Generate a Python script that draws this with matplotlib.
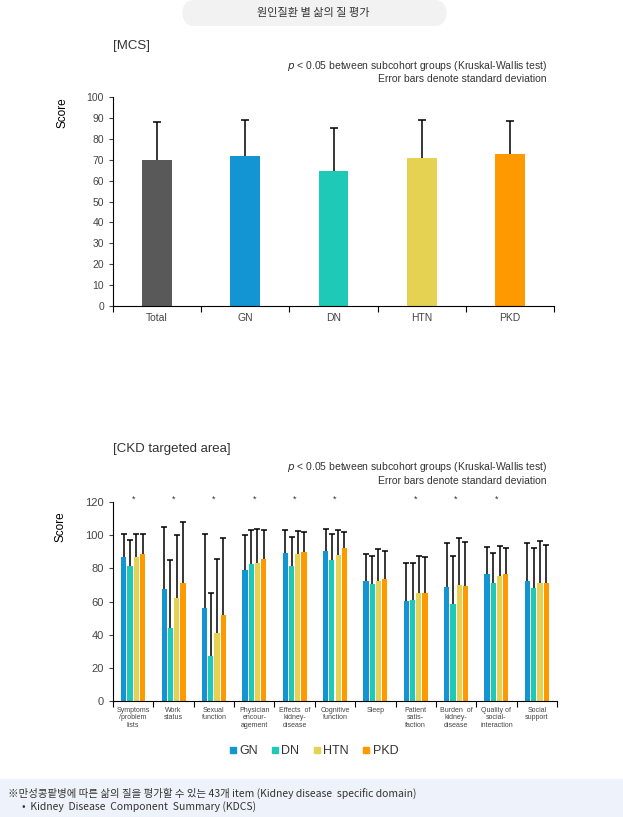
import numpy as np
import matplotlib
matplotlib.use("Agg")
import matplotlib.pyplot as plt
from matplotlib.patches import FancyBboxPatch, Rectangle
from matplotlib.lines import Line2D

plt.rcParams['font.family'] = ['Liberation Sans', 'Noto Sans CJK KR', 'DejaVu Sans']

# === Dados: MCS ===
mcs_groups = ["Total", "GN", "DN", "HTN", "PKD"]
mcs_mean = [70.0, 72.0, 64.7, 71.0, 72.5]
mcs_sd = [18.0, 17.0, 20.6, 18.0, 16.2]

# === Dados: CKD targeted area ===
domains = ["Symptoms\n/problem\nlists", "Work\nstatus", "Sexual\nfunction",
           "Physician\nencour-\nagement", "Effects  of\nkidney-\ndisease",
           "Cognitive\nfunction", "Sleep", "Patient\nsatis-\nfaction",
           "Burden  of\nkidney-\ndisease", "Quality of\nsocial-\ninteraction",
           "Social\nsupport"]
series = ["GN", "DN", "HTN", "PKD"]
gn_mean = [87.1, 67.5, 56.3, 79.0, 89.3, 90.5, 72.6, 60.3, 69.0, 76.6, 72.6]
gn_sd = [13.5, 37.3, 44.7, 21.0, 13.7, 13.1, 15.9, 23.2, 26.2, 16.1, 22.6]
dn_mean = [81.7, 43.8, 27.0, 82.7, 81.7, 85.1, 70.6, 60.9, 58.5, 71.0, 68.3]
dn_sd = [15.5, 41.1, 38.3, 20.3, 17.1, 15.9, 17.1, 22.6, 28.8, 18.1, 23.8]
htn_mean = [87.1, 62.3, 41.1, 83.0, 88.7, 88.1, 72.6, 65.3, 70.0, 75.4, 71.2]
htn_sd = [13.5, 37.7, 44.4, 20.6, 13.9, 14.9, 18.9, 22.0, 28.2, 17.9, 25.2]
pkd_mean = [88.7, 71.0, 52.0, 85.9, 89.9, 92.3, 73.8, 65.3, 69.4, 76.8, 71.2]
pkd_sd = [11.9, 36.9, 46.2, 17.1, 11.9, 9.5, 16.5, 21.4, 26.4, 15.3, 22.8]
significant = [1, 1, 1, 1, 1, 1, 0, 1, 1, 1, 0]

colors = {"Total": "#595959", "GN": "#1395d3", "DN": "#1fc9b7",
          "HTN": "#e5d152", "PKD": "#fe9900"}
txt_color = "#333333"
tick_color = "#444444"

W, H = 623, 817
fig = plt.figure(figsize=(W / 100, H / 100), dpi=100)


def px_axes(left, top, right, bottom):
    return fig.add_axes([left / W, 1 - bottom / H, (right - left) / W, (bottom - top) / H])


def style_axes(ax, n):
    for s in ["top", "right"]:
        ax.spines[s].set_visible(False)
    ax.spines["left"].set_linewidth(0.8)
    ax.spines["bottom"].set_linewidth(0.8)
    ax.set_xlim(0, n)
    ax.set_xticks(np.arange(n + 1))
    ax.set_xticklabels([])
    ax.tick_params(axis="x", which="major", length=4, width=0.8, direction="out")
    ax.tick_params(axis="y", length=3, width=0.8, direction="out", colors=tick_color)


def up_errorbar(ax, xs, m, s, cap):
    # so a barra superior: esconde o cap de baixo
    _, caps, _ = ax.errorbar(xs, m, yerr=[np.zeros(len(s)), s], fmt="none",
                             ecolor="black", elinewidth=1.1, capsize=cap,
                             capthick=1.1, zorder=3)
    caps[0].set_visible(False)


# === Cabeçalho ===
fig.patches.append(FancyBboxPatch((182 / W, 1 - 26 / H), 265 / W, 26 / H,
                                  boxstyle="round,pad=0,rounding_size=0.02",
                                  transform=fig.transFigure, fc="#f2f2f2", ec="none"))
fig.text(313 / W, 1 - 13 / H, "원인질환 별 삶의 질 평가", ha="center", va="center",
         fontsize=8, color=txt_color, family=['Noto Sans CJK KR', 'DejaVu Sans'])

# === Gráfico MCS ===
ax1 = px_axes(113, 97, 554, 306)
x1 = np.arange(len(mcs_groups)) + 0.5
ax1.bar(x1, mcs_mean, width=0.34, color=[colors[g] for g in mcs_groups], zorder=2)
up_errorbar(ax1, x1, mcs_mean, mcs_sd, 2.6)
style_axes(ax1, len(mcs_groups))
ax1.set_ylim(0, 100)
ax1.set_yticks(np.arange(0, 101, 10))
ax1.set_xticks(x1, minor=True)
ax1.set_xticklabels(mcs_groups, minor=True)
ax1.tick_params(axis="x", which="minor", length=0, pad=5, labelsize=7.5, labelcolor=tick_color)
ax1.tick_params(axis="y", labelsize=7.5)
fig.text(62 / W, 1 - 113 / H, "Score", rotation=90, ha="center", va="center",
         fontsize=8.5, color="black")
fig.text(113 / W, 1 - 46 / H, "[MCS]", ha="left", va="center", fontsize=9.5, color=txt_color)
fig.text(547 / W, 1 - 66 / H, r"$\it{p}$ < 0.05 between subcohort groups (Kruskal-Wallis test)",
         ha="right", va="center", fontsize=7.5, color=txt_color)
fig.text(547 / W, 1 - 79 / H, "Error bars denote standard deviation",
         ha="right", va="center", fontsize=7.5, color=txt_color)

# === Gráfico CKD targeted area ===
ax2 = px_axes(113, 502, 557, 701)
n = len(domains)
centers = np.arange(n) + 0.5
pitch = 0.155
means = [gn_mean, dn_mean, htn_mean, pkd_mean]
sds = [gn_sd, dn_sd, htn_sd, pkd_sd]
for k, (name, m, s) in enumerate(zip(series, means, sds)):
    xs = centers + (k - 1.5) * pitch
    ax2.bar(xs, m, width=0.13, color=colors[name], zorder=2)
    up_errorbar(ax2, xs, m, s, 2.5)
style_axes(ax2, n)
ax2.set_ylim(0, 120)
ax2.set_yticks(np.arange(0, 121, 20))
ax2.set_xticks(centers, minor=True)
ax2.set_xticklabels(domains, minor=True, linespacing=1.1)
ax2.tick_params(axis="x", which="minor", length=0, pad=4, labelsize=5, labelcolor=tick_color)
ax2.tick_params(axis="y", labelsize=8)
for c, sig in zip(centers, significant):
    if sig:
        ax2.text(c, 121.5, "*", ha="center", va="center", fontsize=6.5,
                 color=txt_color, clip_on=False)
fig.text(60 / W, 1 - 527 / H, "Score", rotation=90, ha="center", va="center",
         fontsize=8.5, color="black")
fig.text(113 / W, 1 - 449 / H, "[CKD targeted area]", ha="left", va="center",
         fontsize=9.5, color=txt_color)
fig.text(547 / W, 1 - 467 / H, r"$\it{p}$ < 0.05 between subcohort groups (Kruskal-Wallis test)",
         ha="right", va="center", fontsize=7.5, color=txt_color)
fig.text(547 / W, 1 - 481 / H, "Error bars denote standard deviation",
         ha="right", va="center", fontsize=7.5, color=txt_color)

handles = [Line2D([], [], marker="s", linestyle="none", markersize=5,
                  color=colors[s]) for s in series]
fig.legend(handles, series, loc="center", bbox_to_anchor=(313 / W, 1 - 751 / H),
           ncol=4, frameon=False, fontsize=9, handletextpad=0.1, columnspacing=1.0,
           handlelength=0.8, labelcolor=txt_color)

# === Rodapé ===
fig.patches.append(Rectangle((0, 0), 1, 38 / H, transform=fig.transFigure,
                             fc="#eef2fa", ec="none"))
fig.text(8 / W, 1 - 793 / H,
         "※만성콩팥병에 따른 삶의 질을 평가할 수 있는 43개 item (Kidney disease  specific domain)",
         ha="left", va="center", fontsize=7.5, color=txt_color,
         family=['Noto Sans CJK KR', 'DejaVu Sans'])
fig.text(22 / W, 1 - 807 / H, "•  Kidney  Disease  Component  Summary (KDCS)",
         ha="left", va="center", fontsize=7.5, color=txt_color,
         family=['Noto Sans CJK KR', 'DejaVu Sans'])

fig.savefig("out.png", dpi=100)
